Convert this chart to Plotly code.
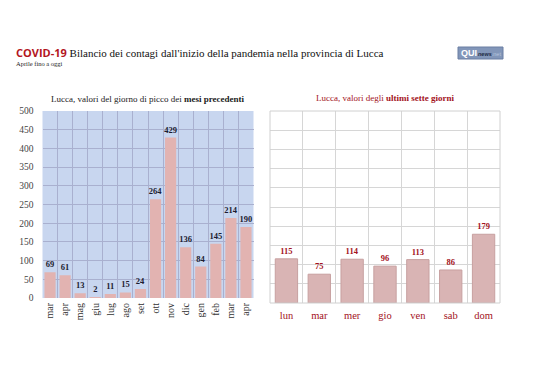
import plotly.graph_objects as go

months = ["mar", "apr", "mag", "giu", "lug", "ago", "set", "ott", "nov", "dic", "gen", "feb", "mar", "apr"]
month_values = [69, 61, 13, 2, 11, 15, 24, 264, 429, 136, 84, 145, 214, 190]
days = ["lun", "mar", "mer", "gio", "ven", "sab", "dom"]
day_values = [115, 75, 114, 96, 113, 86, 179]

# page body has an 8px default margin: figure is sized so it fits the 538x380 window
OFF = 8
W, H = 538 - OFF, 380 - OFF
SERIF = "Liberation Serif"
DARKRED = "#a3121c"

def px(x):
    return (x - OFF) / W

def py(y):
    return 1 - (y - OFF) / H

fig = go.Figure()

fig.add_trace(go.Bar(
    x=list(range(len(months))), y=month_values,
    marker=dict(color="#e2b3b1", line=dict(width=0)),
    width=0.74,
    text=[str(v) for v in month_values], textposition="outside",
    textfont=dict(family=SERIF, size=8.5, color="#1c1c30", weight="bold"),
    cliponaxis=False, xaxis="x", yaxis="y", showlegend=False,
))

fig.add_trace(go.Bar(
    x=list(range(len(days))), y=day_values,
    marker=dict(color="#d9b4b4", line=dict(width=1, color="#c7a0a0")),
    width=0.68,
    text=[str(v) for v in day_values], textposition="outside",
    textfont=dict(family=SERIF, size=8.5, color=DARKRED, weight="bold"),
    cliponaxis=False, xaxis="x2", yaxis="y2", showlegend=False,
))

fig.update_layout(
    width=W, height=H,
    margin=dict(l=0, r=0, t=0, b=0, autoexpand=False),
    paper_bgcolor="white",
    plot_bgcolor="white",
    font=dict(family=SERIF),
    uniformtext=dict(minsize=8.5, mode="show"),
    xaxis=dict(
        domain=[px(42.5), px(253.5)], anchor="y", automargin=False,
        range=[-0.5, len(months) - 0.5],
        tickvals=list(range(len(months))), ticktext=months,
        tickangle=-90, showgrid=False, zeroline=False,
        tickfont=dict(family=SERIF, size=10, color="#333333"),
        minor=dict(tick0=0.5, dtick=1, showgrid=True, gridcolor="#a9b0cf", gridwidth=1),
        showline=False, ticks="", ticklabelstandoff=2,
    ),
    yaxis=dict(
        domain=[py(298), py(111)], anchor="x", automargin=False,
        range=[0, 500], dtick=50,
        showgrid=True, gridcolor="#a9b0cf", gridwidth=1, zeroline=False,
        tickfont=dict(family=SERIF, size=9.5, color="#444444"),
        ticklabelstandoff=8,
    ),
    xaxis2=dict(
        domain=[px(270), px(500)], anchor="y2", automargin=False,
        range=[-0.5, len(days) - 0.5],
        tickvals=list(range(len(days))), ticktext=days,
        showgrid=False, zeroline=False,
        tickfont=dict(family=SERIF, size=10.5, color=DARKRED),
        minor=dict(tick0=0.5, dtick=1, showgrid=True, gridcolor="#d6d6d6", gridwidth=1),
        showline=False, ticks="", ticklabelstandoff=4,
    ),
    yaxis2=dict(
        domain=[py(303), py(111)], anchor="x2", automargin=False,
        range=[0, 500], dtick=50,
        showgrid=True, gridcolor="#d6d6d6", gridwidth=1, zeroline=False,
        showticklabels=False,
    ),
    shapes=[
        dict(type="rect", xref="paper", yref="paper",
             x0=px(42.5), x1=px(253.5), y0=py(298), y1=py(111),
             fillcolor="#c8d6ef", line=dict(width=0), layer="below"),
        dict(type="rect", xref="paper", yref="paper",
             x0=px(270), x1=px(500), y0=py(303), y1=py(111),
             fillcolor="rgba(0,0,0,0)", line=dict(width=1, color="#d0d0d0")),
        dict(type="rect", xref="paper", yref="paper",
             x0=px(458), x1=px(503), y0=py(59), y1=py(47),
             fillcolor="#8296b9", line=dict(width=1, color="#6a7fa3")),
    ],
    annotations=[
        dict(xref="paper", yref="paper", x=px(14), y=py(52), xanchor="left", yanchor="middle",
             showarrow=False,
             text="<b><span style='font-family:Open Sans;color:#b3161e'>COVID-19</span></b> Bilancio dei contagi dall'inizio della pandemia nella provincia di Lucca",
             font=dict(family=SERIF, size=11, color="#111111")),
        dict(xref="paper", yref="paper", x=px(14), y=py(64), xanchor="left", yanchor="middle",
             showarrow=False, text="Aprile fino a oggi",
             font=dict(family=SERIF, size=6.5, color="#222222")),
        dict(xref="paper", yref="paper", x=px(148), y=py(98.5), xanchor="center", yanchor="middle",
             showarrow=False, text="Lucca, valori del giorno di picco dei <b>mesi precedenti</b>",
             font=dict(family=SERIF, size=9, color="#222222")),
        dict(xref="paper", yref="paper", x=px(385), y=py(97.5), xanchor="center", yanchor="middle",
             showarrow=False, text="Lucca, valori degli <b>ultimi sette giorni</b>",
             font=dict(family=SERIF, size=9, color=DARKRED)),
        dict(xref="paper", yref="paper", x=px(459), y=py(53), xanchor="left", yanchor="middle",
             showarrow=False, text="<b>QUI</b>",
             font=dict(family="Liberation Sans", size=9, color="white")),
        dict(xref="paper", yref="paper", x=px(476), y=py(53.5), xanchor="left", yanchor="middle",
             showarrow=False, text="<b><i>news</i></b><span style='color:#b8c6de'>.net</span>",
             font=dict(family="Liberation Sans", size=5.5, color="#1e2a44")),
    ],
)

fig.write_html("out.html")
